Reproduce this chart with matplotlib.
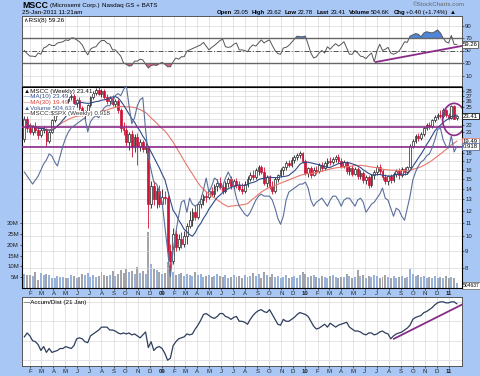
import numpy as np
import pandas as pd
import matplotlib
matplotlib.use('Agg')
import matplotlib.pyplot as plt
import matplotlib.dates as mdates
from matplotlib.patches import Ellipse
from matplotlib.ticker import NullLocator

plt.rcParams['font.family'] = ['Liberation Sans', 'DejaVu Sans']
plt.rcParams['font.size'] = 4.5

# weekly bars, MSCC Jan 2008 - Jan 2011
dates = pd.date_range('2008-01-18', periods=158, freq='7D')

opens = [20.0, 23.0, 21.5, 21.0, 21.8, 21.2, 20.5, 21.3, 21.4, 19.6,
         21.0, 22.8, 23.8, 25.2, 25.8, 26.5, 26.0, 26.8, 27.0, 25.8,
         26.3, 24.8, 23.8, 24.2, 25.3, 26.8, 27.6, 28.2, 27.5, 28.0,
         26.8, 26.0, 26.6, 25.5, 26.1, 24.4, 21.5, 21.2, 19.5, 20.6,
         18.8, 20.2, 19.0, 19.5, 18.6, 18.8, 12.6, 14.3, 13.0, 13.8,
         12.6, 13.2, 13.1, 9.0, 8.4, 10.2, 9.3, 9.8, 9.5, 10.0,
         10.8, 11.2, 11.9, 11.5, 12.6, 12.9, 13.3, 13.2, 13.8, 13.5,
         14.3, 14.6, 14.2, 13.8, 14.6, 15.0, 14.3, 14.8, 14.4, 14.0,
         13.8, 14.5, 15.0, 15.5, 15.2, 15.9, 16.3, 15.8, 14.6, 15.2,
         14.3, 13.8, 15.0, 15.4, 16.0, 16.3, 16.8, 16.6, 17.2, 17.5,
         17.8, 18.0, 17.0, 15.7, 16.2, 15.5, 16.0, 15.9, 16.6, 16.2,
         16.8, 17.1, 16.9, 17.3, 17.6, 17.1, 16.5, 16.9, 15.9, 16.2,
         15.6, 16.1, 15.3, 15.7, 14.9, 15.2, 14.4, 15.4, 15.8, 16.4,
         15.9, 15.2, 14.8, 15.3, 14.9, 15.6, 15.9, 15.4, 16.1, 15.8,
         16.3, 19.0, 19.7, 20.3, 20.1, 20.6, 21.6, 22.0, 21.8, 22.8,
         23.3, 23.7, 23.5, 24.5, 23.6, 23.2, 25.1, 23.1]
highs = [23.5, 23.4, 22.3, 22.0, 22.5, 21.8, 21.5, 21.9, 21.6, 21.2,
         23.0, 24.0, 25.5, 26.2, 27.0, 27.2, 27.0, 27.5, 27.4, 26.5,
         26.8, 25.2, 24.5, 25.5, 27.0, 28.0, 28.6, 28.8, 28.3, 28.4,
         27.4, 27.0, 27.2, 26.4, 26.5, 24.8, 22.5, 22.0, 21.0, 21.2,
         20.6, 20.8, 20.0, 19.8, 19.4, 19.0, 14.8, 14.8, 14.2, 14.4,
         14.0, 13.8, 13.4, 9.5, 10.6, 10.5, 10.2, 10.3, 10.4, 11.0,
         12.0, 12.2, 12.5, 12.8, 13.4, 13.5, 13.8, 14.0, 14.2, 14.5,
         15.0, 15.2, 14.5, 14.8, 15.2, 15.3, 15.0, 15.1, 14.8, 14.6,
         14.8, 15.3, 15.8, 16.0, 16.2, 16.6, 16.6, 16.3, 15.4, 15.5,
         14.8, 15.2, 15.6, 16.2, 16.5, 17.0, 17.2, 17.5, 17.8, 18.1,
         18.3, 18.2, 17.3, 16.4, 16.5, 16.3, 16.5, 16.8, 16.9, 17.0,
         17.4, 17.5, 17.6, 17.8, 17.9, 17.4, 17.2, 17.1, 16.5, 16.6,
         16.4, 16.3, 16.0, 15.9, 15.5, 15.4, 15.6, 16.0, 16.6, 16.7,
         16.1, 15.6, 15.5, 15.6, 15.8, 16.1, 16.2, 16.3, 16.4, 16.5,
         19.2, 20.0, 20.6, 20.8, 20.9, 21.8, 22.3, 22.5, 23.0, 23.6,
         24.0, 24.4, 24.8, 24.7, 24.0, 25.4, 25.3, 23.62]
lows = [19.5, 21.0, 20.6, 20.5, 20.8, 20.0, 20.2, 20.8, 19.0, 19.4,
        20.8, 22.5, 23.5, 24.8, 25.5, 25.8, 25.8, 26.2, 25.5, 25.0,
        24.5, 23.4, 23.0, 23.8, 25.0, 26.5, 27.2, 27.3, 26.8, 26.5,
        25.6, 25.5, 25.2, 25.0, 24.0, 21.0, 20.5, 19.0, 18.5, 17.5,
        18.2, 16.6, 18.3, 18.2, 18.0, 10.6, 12.2, 12.5, 12.2, 12.3,
        12.5, 12.6, 8.6, 7.7, 8.2, 9.0, 9.1, 9.2, 9.3, 9.5,
        10.6, 10.8, 11.2, 11.3, 12.2, 12.5, 12.8, 13.0, 13.3, 13.2,
        13.8, 14.0, 13.5, 13.6, 14.2, 14.0, 14.0, 14.1, 13.8, 13.5,
        13.6, 14.2, 14.8, 14.9, 15.0, 15.5, 15.6, 14.4, 14.2, 14.0,
        13.5, 13.6, 14.7, 15.2, 15.5, 16.0, 16.3, 16.4, 16.8, 17.2,
        17.4, 16.8, 15.4, 15.2, 15.1, 15.3, 15.6, 15.7, 15.9, 16.0,
        16.4, 16.6, 16.7, 16.9, 16.8, 16.2, 16.2, 15.6, 15.5, 15.3,
        15.4, 15.0, 15.0, 14.6, 14.5, 14.1, 14.2, 15.0, 15.4, 15.6,
        14.9, 14.5, 14.4, 14.6, 14.7, 15.2, 15.0, 15.2, 15.5, 15.6,
        16.2, 18.7, 19.4, 19.7, 19.8, 20.3, 21.2, 21.4, 21.6, 22.4,
        22.9, 23.1, 23.2, 23.3, 22.8, 23.0, 23.0, 22.78]
closes = [23.0, 21.5, 21.0, 21.8, 21.2, 20.5, 21.3, 21.4, 19.6, 21.0,
          22.8, 23.8, 25.2, 25.8, 26.5, 26.0, 26.8, 27.0, 25.8, 26.3,
          24.8, 23.8, 24.2, 25.3, 26.8, 27.6, 28.2, 27.5, 28.0, 26.8,
          26.0, 26.6, 25.5, 26.1, 24.4, 21.5, 21.2, 19.5, 20.6, 18.8,
          20.2, 19.0, 19.5, 18.6, 18.8, 12.6, 14.3, 13.0, 13.8, 12.6,
          13.2, 13.1, 9.0, 8.4, 10.2, 9.3, 9.8, 9.5, 10.0, 10.8,
          11.2, 11.9, 11.5, 12.6, 13.0, 13.3, 13.2, 13.8, 13.5, 14.3,
          14.6, 14.2, 13.8, 14.6, 15.0, 14.3, 14.8, 14.4, 14.0, 13.8,
          14.5, 15.0, 15.5, 15.2, 16.0, 16.3, 15.8, 14.6, 15.2, 14.3,
          13.8, 15.0, 15.4, 16.0, 16.3, 16.8, 16.6, 17.2, 17.5, 17.8,
          18.0, 17.0, 15.7, 16.2, 15.5, 16.0, 15.9, 16.6, 16.2, 16.8,
          17.1, 16.9, 17.3, 17.6, 17.1, 16.5, 16.9, 15.9, 16.2, 15.6,
          16.1, 15.3, 15.7, 14.9, 15.2, 14.4, 15.4, 15.8, 16.4, 15.9,
          15.2, 14.8, 15.3, 14.9, 15.6, 15.9, 15.4, 16.1, 15.8, 16.3,
          19.0, 19.7, 20.3, 20.1, 20.6, 21.6, 22.0, 21.8, 22.8, 23.3,
          23.7, 23.5, 24.5, 23.6, 23.2, 25.1, 23.0, 23.41]
# volume in millions of shares
volume = [6.5, 6.0, 6.2, 5.5, 7.5, 3.5, 6.8, 6.0, 6.3, 5.8,
          4.5, 4.8, 5.5, 5.0, 5.2, 4.6, 4.4, 6.0, 5.5, 4.8,
          5.0, 6.5, 5.8, 7.0, 5.2, 6.0, 5.0, 5.5, 7.5, 6.2,
          5.5, 6.0, 7.8, 5.5, 6.5, 8.5, 7.0, 9.0, 7.5, 8.0,
          6.5, 9.5, 7.0, 8.0, 6.5, 26.0, 11.0, 9.0, 8.5, 7.5,
          6.5, 7.0, 12.0, 10.0, 7.5, 6.0, 6.5, 7.0, 5.5, 6.5,
          6.0, 5.5, 7.5, 6.0, 6.5, 5.0, 5.5, 6.0, 5.0, 5.5,
          6.5, 5.5, 5.0, 5.8, 4.5, 5.0, 6.0, 5.2, 5.5, 4.8,
          6.0, 5.0, 5.5, 7.0, 5.5, 6.5, 4.8, 7.5, 6.0, 5.2,
          6.5, 5.0, 5.5, 4.8, 5.2, 6.0, 4.5, 5.0, 5.5, 4.8,
          6.0, 7.5, 6.5, 5.0, 5.5, 6.0, 5.0, 4.5, 5.5, 5.0,
          4.8, 5.5, 6.0, 5.0, 4.5, 5.2, 5.0, 6.5, 5.5, 4.8,
          5.0, 8.5, 5.5, 6.0, 4.8, 5.5, 5.0, 6.2, 5.5, 4.5,
          5.0, 6.0, 5.0, 4.5, 5.5, 4.8, 5.0, 5.5, 4.5, 5.0,
          9.0, 6.5, 5.5, 6.0, 5.0, 5.5, 4.8, 5.0, 4.5, 5.5,
          4.8, 5.0, 4.5, 5.5, 4.8, 5.0, 4.5, 2.5]
# relative strength MSCC:$SPX
rs_spx = [0.79, 0.77, 0.75, 0.73, 0.75, 0.77, 0.80, 0.83, 0.85, 0.88,
          0.87, 0.84, 0.82, 0.87, 0.92, 0.96, 0.99, 1.01, 1.02, 1.03,
          1.04, 1.05, 1.06, 0.99, 1.04, 1.06, 1.07, 1.06, 1.09, 1.11,
          1.12, 1.12, 1.14, 1.17, 1.18, 1.17, 1.20, 1.22, 1.12, 1.03,
          1.06, 1.12, 1.15, 1.16, 1.00, 0.87, 0.80, 0.74, 0.73, 0.69,
          0.64, 0.52, 0.40, 0.27, 0.40, 0.49, 0.57, 0.64, 0.65, 0.59,
          0.66, 0.63, 0.62, 0.63, 0.65, 0.70, 0.76, 0.69, 0.72, 0.76,
          0.75, 0.71, 0.72, 0.76, 0.79, 0.76, 0.72, 0.66, 0.62, 0.60,
          0.58, 0.57, 0.59, 0.62, 0.65, 0.67, 0.68, 0.67, 0.67, 0.67,
          0.65, 0.61, 0.56, 0.53, 0.57, 0.65, 0.69, 0.70, 0.71, 0.72,
          0.73, 0.73, 0.74, 0.71, 0.65, 0.62, 0.64, 0.65, 0.66, 0.64,
          0.62, 0.65, 0.67, 0.67, 0.65, 0.62, 0.65, 0.66, 0.66, 0.64,
          0.62, 0.65, 0.66, 0.64, 0.59, 0.61, 0.63, 0.64, 0.66, 0.68,
          0.71, 0.66, 0.65, 0.61, 0.57, 0.61, 0.60, 0.57, 0.55, 0.61,
          0.67, 0.75, 0.79, 0.82, 0.84, 0.85, 0.87, 0.88, 0.91, 0.95,
          1.00, 1.01, 0.95, 0.92, 0.91, 0.97, 0.89, 0.918]
rsi8 = [50, 45, 41, 41, 40, 46, 44, 54, 56, 60,
        58, 58, 62, 63, 64, 67, 66, 70, 70, 67,
        64, 59, 50, 43, 52, 55, 56, 62, 66, 66,
        62, 60, 51, 51, 46, 41, 30, 28, 25, 26,
        33, 33, 36, 35, 28, 22, 26, 27, 26, 29,
        31, 28, 24, 24, 32, 38, 36, 40, 40, 49,
        51, 53, 55, 57, 59, 63, 57, 51, 55, 58,
        62, 66, 68, 56, 55, 56, 60, 62, 51, 51,
        50, 48, 55, 59, 57, 62, 67, 62, 65, 67,
        58, 50, 45, 44, 54, 55, 58, 63, 68, 73,
        72, 72, 73, 60, 46, 38, 40, 46, 50, 46,
        56, 52, 57, 61, 57, 60, 64, 54, 44, 44,
        50, 46, 41, 40, 37, 42, 46, 32, 50, 60,
        50, 52, 55, 46, 44, 46, 49, 56, 64, 63,
        73, 75, 77, 76, 72, 78, 80, 79, 78, 80,
        83, 78, 70, 64, 62, 74, 60, 59.26]
accum_dist = [32, 36, 33, 28, 27, 24, 18, 22, 16, 20,
              16, 17, 18, 20, 20, 22, 21, 20, 23, 30,
              31, 30, 27, 26, 33, 35, 37, 39, 42, 42,
              42, 39, 39, 38, 36, 35, 36, 35, 36, 34,
              35, 33, 31, 34, 37, 21, 27, 18, 21, 22,
              20, 15, 8, 10, 23, 27, 30, 31, 32, 35,
              34, 35, 40, 44, 49, 55, 56, 54, 52, 51,
              53, 56, 56, 53, 52, 50, 52, 53, 48, 48,
              47, 45, 50, 54, 57, 59, 60, 58, 57, 60,
              55, 50, 45, 44, 50, 48, 48, 50, 52, 55,
              57, 56, 55, 53, 48, 43, 40, 41, 43, 45,
              42, 46, 44, 42, 44, 45, 46, 47, 42, 40,
              38, 38, 37, 35, 34, 36, 36, 34, 35, 37,
              38, 36, 35, 30, 33, 35, 36, 37, 39, 41,
              44, 50, 52, 53, 54, 57, 58, 60, 62, 65,
              67, 68, 68, 67, 67, 68, 68, 66]

levels = [21.7, 18.8]                       # drawn support lines
rsi_trend = (['2010-06-29', '2011-02-02'], [31.6, 57.2])
ad_trend = (['2010-08-14', '2011-02-02'], [30, 65])

bg = '#a9c7f5'
purple = '#8a2b8a'
red = '#cc1236'

o = np.array(opens); h = np.array(highs); l = np.array(lows); c = np.array(closes)
x = mdates.date2num(dates.to_pydatetime())
ma10 = pd.Series(c).rolling(10, min_periods=1).mean()
ma30 = pd.Series(c).rolling(30, min_periods=1).mean()
prev = np.r_[c[0], c[:-1]]
cols = np.where(c < prev, red, '#222222')

fig = plt.figure(figsize=(4.8, 3.76), dpi=100, facecolor=bg)

def panel(top, bottom):
    return fig.add_axes([22 / 480, 1 - bottom / 376, 440 / 480, (bottom - top) / 376])

def ptext(px, py, s, **kw):
    return fig.text(px / 480, 1 - py / 376, s, va='center', **kw)

ax_rsi = panel(16, 86)
ax_vol = panel(87, 288)
ax_ad = panel(297, 366)
ax_px = ax_vol.twinx()
ax_rs = ax_vol.twinx()

x0 = mdates.date2num(dates[0] - pd.Timedelta(days=6))
x1 = mdates.date2num(dates[0] + pd.Timedelta(days=1112))
months = pd.date_range('2008-02-01', '2011-01-01', freq='MS')
mt = mdates.date2num(months.to_pydatetime())
mlab = [d.strftime('%y') if d.month == 1 else 'JFMAMJJASOND'[d.month - 1] for d in months]

for a in (ax_rsi, ax_vol, ax_ad):
    a.set_xlim(x0, x1)
    a.set_xticks(mt)
    a.grid(axis='x', color='#d9d9d9', lw=0.5)
    a.set_axisbelow(True)
    for s in a.spines.values():
        s.set_color('#555555')
        s.set_linewidth(0.7)
    a.tick_params(length=1.5, width=0.5, pad=0.8, labelsize=4.3, colors='#222222')

for a in (ax_vol, ax_ad):
    a.set_xticklabels(mlab)
    for t in a.get_xticklabels():
        if t.get_text().isdigit():
            t.set_fontweight('bold')
ax_rsi.set_xticklabels([])

# RSI panel
rsi = np.array(rsi8)
ax_rsi.plot(x, rsi, color='#555555', lw=0.7)
ax_rsi.fill_between(x, rsi, 70, where=rsi > 70, interpolate=True, color='#4f86d9', lw=0)
ax_rsi.fill_between(x, rsi, 30, where=rsi < 30, interpolate=True, color='#d9638c', lw=0)
ax_rsi.set_ylim(-6.8, 105.2)
ax_rsi.yaxis.tick_right()
ax_rsi.set_yticks([10, 30, 50, 70, 90])
ax_rsi.grid(axis='y', color='#d9d9d9', lw=0.5)
ax_rsi.axhline(70, color='#666666', lw=1)
ax_rsi.axhline(30, color='#666666', lw=1)
ax_rsi.axhline(50, color='#555555', lw=0.7, ls=(0, (5, 2, 1, 2)))
ax_rsi.plot(mdates.datestr2num(rsi_trend[0]), rsi_trend[1], color=purple, lw=1.3)
ax_rsi.text(0.005, 0.93, '\u2227RSI(8) 59.26', transform=ax_rsi.transAxes, va='center', fontsize=4.5)

# volume
vcol = np.where(c < prev, '#a3a3a8', '#98b2d9')
ax_vol.bar(x, volume, width=5, color=vcol, zorder=2)
ax_vol.set_ylim(0, 93)
ax_vol.set_yticks([5, 10, 15, 20, 25, 30])
ax_vol.set_yticklabels([f'{v}M' for v in [5, 10, 15, 20, 25, 30]])
ax_vol.yaxis.tick_left()

# price candles
ax_px.set_yscale('log')
ax_px.set_ylim(6.94, 28.8)
ax_px.yaxis.set_minor_locator(NullLocator())
pt = list(range(8, 29))
ax_px.set_yticks(pt)
ax_px.set_yticklabels(['' if v in (19, 20, 23, 24) else str(v) for v in pt])
ax_px.tick_params(length=1.5, width=0.5, pad=0.8, labelsize=4.3, colors='#222222')
ax_px.grid(axis='y', color='#d9d9d9', lw=0.5)
ax_px.vlines(x, l, h, colors=cols, lw=0.6, zorder=3)
body = np.maximum(np.abs(c - o), 0.06)
ax_px.bar(x, body, bottom=np.minimum(o, c), width=4.5,
          color=np.where(c < o, cols, 'white'), edgecolor=cols, lw=0.5, zorder=4)
ax_px.plot(x, ma30, color='#e8776c', lw=0.8, zorder=5)
ax_px.plot(x, ma10, color='#2f4a8a', lw=0.8, zorder=5)
for v in levels:
    ax_px.axhline(v, color=purple, lw=1.2, zorder=6)

ax_rs.plot(x, rs_spx, color='#5a6f9c', lw=0.8)
ax_rs.set_ylim(0.213, 1.213)
ax_rs.set_axis_off()

# circle around the last bars
fig.canvas.draw()
cx, cy = ax_px.transAxes.inverted().transform(ax_px.transData.transform((x[-2], 22.9)))
ax_px.add_patch(Ellipse((cx, cy), 23 / 440, 32 / 201, transform=ax_px.transAxes,
                        fill=False, ec=purple, lw=1.2, zorder=7))

# legend block
leg = [('\u25b2MSCC (Weekly) 23.41', '#111111'), ('\u2014MA(10) 23.49', '#2f4a8a'),
       ('\u2014MA(30) 19.49', '#d9433a'), ('\u25b2Volume 504,637', '#3c5a91'),
       ('\u2014MSCC:$SPX (Weekly) 0.918', '#333333')]
for k, (s, col) in enumerate(leg):
    ptext(24, 91 + k * 5.6, s, color=col, fontsize=4.5,
          bbox=dict(fc='white', ec='none', pad=0.2))

def vbox(a, y, s, ec, size=4.3):
    a.annotate(s, xy=(1, y), xycoords=('axes fraction', 'data'), xytext=(0.5, 0),
               textcoords='offset points', va='center', ha='left', fontsize=size,
               bbox=dict(boxstyle='square,pad=0.12', fc='white', ec=ec, lw=0.6),
               annotation_clip=False)

vbox(ax_px, closes[-1], '23.41', '#111111')
vbox(ax_px, ma30.iloc[-1], '19.49', '#e8776c')
vbox(ax_rs, rs_spx[-1], '0.918', '#5a6f9c')
vbox(ax_rsi, rsi8[-1], '59.26', '#555555')
vbox(ax_vol, 1.2, '504637', '#777777', size=3.6)

# accumulation / distribution
ax_ad.plot(x, accum_dist, color='#2e3e5e', lw=0.9)
ax_ad.set_ylim(2, 73)
ax_ad.yaxis.tick_right()
ax_ad.set_yticks([8, 28, 48, 68])
ax_ad.set_yticklabels([])
ax_ad.tick_params(axis='y', length=0)
ax_ad.grid(axis='y', color='#d9d9d9', lw=0.5)
ax_ad.plot(mdates.datestr2num(ad_trend[0]), ad_trend[1], color=purple, lw=1.3)
ax_ad.text(0.005, 0.92, '\u2014Accum/Dist (21 Jan)', transform=ax_ad.transAxes,
           va='center', fontsize=4.5)

# header: runs of bold/regular text laid out one after the other
renderer = fig.canvas.get_renderer()

def runs(px, py, parts):
    for s, bold, gap, size in parts:
        t = ptext(px, py, s, fontsize=size, fontweight='bold' if bold else 'normal')
        px += t.get_window_extent(renderer).width + gap

runs(22, 5.5, [('MSCC', True, 2, 6.3), ('(Microsemi Corp.)', False, 2, 4.5),
               ('Nasdaq GS + BATS', False, 0, 4.5)])
ptext(22, 12.5, '25-Jan-2011 11:21am', fontsize=4.5)
ptext(413, 5, '\u00a9StockCharts.com', fontsize=4.5, color='#666666')
hs = 4.3
runs(217, 12.5, [('Open', True, 1.2, hs), ('23.05', False, 3.5, hs), ('High', True, 1.2, hs),
                 ('23.62', False, 3.5, hs), ('Low', True, 1.2, hs), ('22.78', False, 3.5, hs),
                 ('Last', True, 1.2, hs), ('23.41', False, 3.5, hs), ('Volume', True, 1.2, hs),
                 ('504.6K', False, 3.5, hs), ('Chg', True, 1.2, hs),
                 ('+0.40 (+1.74%)', False, 2, hs), ('\u25b2', False, 0, hs)])

fig.savefig('out.png', dpi=100, facecolor=bg)
